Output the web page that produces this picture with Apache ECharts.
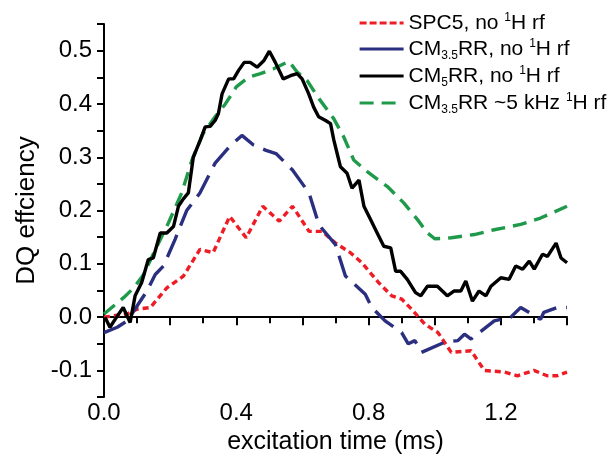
<!DOCTYPE html>
<html><head><meta charset="utf-8">
<script src="https://cdn.jsdelivr.net/npm/echarts@6/dist/echarts.min.js"></script>
<style>html,body{margin:0;padding:0;background:#fff}#c{width:610px;height:460px}</style>
</head><body><div id="c"></div>
<script>
var seriesNames = ['SPC5, no 1H rf', 'CM3.5RR, no 1H rf', 'CM5RR, no 1H rf', 'CM3.5RR ~5 kHz 1H rf'];
var legendRich = ['SPC5, no {sup|1}H rf', 'CM{sub|3.5}RR, no {sup|1}H rf', 'CM{sub|5}RR, no {sup|1}H rf', 'CM{sub|3.5}RR ~5 kHz {sup|1}H rf'];
var xTickLabels = ['0.0', '0.4', '0.8', '1.2'];
var yTickLabels = ['-0.1', '0.0', '0.1', '0.2', '0.3', '0.4', '0.5'];

var spc5Time = [0.0, 0.07, 0.10, 0.14, 0.19, 0.24, 0.29, 0.33, 0.38, 0.43, 0.48, 0.53, 0.57, 0.62, 0.66, 0.70, 0.745, 0.78, 0.83, 0.87, 0.90, 0.93, 0.97, 1.01, 1.05, 1.11, 1.15, 1.21, 1.25, 1.30, 1.34, 1.37, 1.40];
var spc5Dq = [0.0, 0.006, 0.015, 0.018, 0.055, 0.077, 0.127, 0.121, 0.189, 0.149, 0.208, 0.18, 0.208, 0.161, 0.161, 0.139, 0.121, 0.102, 0.065, 0.04, 0.034, 0.015, -0.013, -0.029, -0.066, -0.063, -0.10, -0.103, -0.11, -0.10, -0.11, -0.11, -0.103];

var cm35Time = [0.0, 0.04, 0.07, 0.13, 0.155, 0.18, 0.215, 0.25, 0.29, 0.336, 0.38, 0.417, 0.452, 0.49, 0.52, 0.57, 0.62, 0.65, 0.70, 0.73, 0.79, 0.81, 0.85, 0.90, 0.92, 0.94, 0.96, 1.03, 1.07, 1.09, 1.11, 1.18, 1.23, 1.26, 1.32, 1.33, 1.37, 1.40];
var cm35Dq = [-0.029, -0.019, -0.007, 0.049, 0.08, 0.096, 0.146, 0.2, 0.233, 0.289, 0.32, 0.341, 0.323, 0.313, 0.307, 0.276, 0.233, 0.173, 0.136, 0.077, 0.043, 0.018, -0.007, -0.029, -0.05, -0.044, -0.066, -0.047, -0.044, -0.032, -0.041, -0.007, 0.0, 0.018, -0.004, 0.009, 0.018, 0.018];

var cm5Time = [0.003, 0.018, 0.038, 0.058, 0.079, 0.094, 0.114, 0.134, 0.149, 0.170, 0.19, 0.21, 0.225, 0.24, 0.255, 0.266, 0.27, 0.291, 0.306, 0.321, 0.336, 0.346, 0.357, 0.377, 0.392, 0.407, 0.424, 0.442, 0.463, 0.483, 0.5, 0.518, 0.542, 0.564, 0.584, 0.599, 0.619, 0.634, 0.649, 0.67, 0.685, 0.695, 0.705, 0.715, 0.735, 0.75, 0.771, 0.786, 0.806, 0.826, 0.846, 0.867, 0.882, 0.897, 0.917, 0.942, 0.958, 0.978, 1.008, 1.038, 1.058, 1.079, 1.094, 1.114, 1.134, 1.155, 1.17, 1.2, 1.225, 1.245, 1.266, 1.286, 1.301, 1.326, 1.341, 1.367, 1.382, 1.40];
var cm5Dq = [0.0, -0.019, 0.0, 0.018, -0.01, 0.04, 0.065, 0.108, 0.111, 0.158, 0.158, 0.17, 0.208, 0.222, 0.233, 0.282, 0.30, 0.332, 0.357, 0.358, 0.369, 0.382, 0.419, 0.447, 0.447, 0.463, 0.478, 0.478, 0.469, 0.481, 0.499, 0.478, 0.447, 0.453, 0.457, 0.447, 0.419, 0.394, 0.376, 0.369, 0.363, 0.332, 0.307, 0.282, 0.27, 0.242, 0.257, 0.208, 0.183, 0.158, 0.133, 0.13, 0.086, 0.086, 0.071, 0.046, 0.04, 0.058, 0.058, 0.04, 0.049, 0.049, 0.068, 0.03, 0.049, 0.04, 0.058, 0.074, 0.071, 0.096, 0.09, 0.105, 0.09, 0.118, 0.114, 0.139, 0.111, 0.102];

var cm35hTime = [0.0, 0.06, 0.09, 0.12, 0.15, 0.195, 0.235, 0.266, 0.30, 0.336, 0.367, 0.40, 0.437, 0.473, 0.513, 0.559, 0.584, 0.614, 0.65, 0.695, 0.725, 0.755, 0.796, 0.857, 0.907, 0.948, 0.978, 1.0, 1.05, 1.12, 1.18, 1.26, 1.32, 1.40];
var cm35hDq = [0.006, 0.037, 0.055, 0.08, 0.12, 0.177, 0.233, 0.295, 0.345, 0.376, 0.40, 0.432, 0.45, 0.457, 0.466, 0.48, 0.46, 0.444, 0.41, 0.372, 0.338, 0.295, 0.273, 0.245, 0.214, 0.183, 0.158, 0.147, 0.149, 0.155, 0.164, 0.174, 0.186, 0.208];

function zip(t, v) { return t.map(function (x, i) { return [x, v[i]]; }); }

var FONT = 'Liberation Sans';
var chart = echarts.init(document.getElementById('c'), null, {renderer: 'canvas'});
var colors = ['#ee1c25', '#2b2f7f', '#000000', '#1e9a4a'];
var dashes = [[6, 4], [24, 10], 'solid', [14, 8]];
var legendDashes = [[7, 3], 'solid', 'solid', [14, 8]];
var datasets = [zip(spc5Time, spc5Dq), zip(cm35Time, cm35Dq), zip(cm5Time, cm5Dq), zip(cm35hTime, cm35hDq)];

function near(v, arr) {
  for (var i = 0; i < arr.length; i++) { if (Math.abs(parseFloat(arr[i]) - v) < 1e-6) return arr[i]; }
  return '';
}

chart.setOption({
  animation: false,
  backgroundColor: '#fff',
  grid: {left: 104, right: 43, top: 24, bottom: 62},
  legend: {
    orient: 'vertical', left: 353, top: 6, itemWidth: 44, itemHeight: 14, itemGap: 1,
    data: seriesNames.map(function (n, i) {
      return {name: n, itemStyle: {opacity: 0}, lineStyle: {type: legendDashes[i], width: 3.2, color: colors[i]}};
    }),
    formatter: function (name) { return legendRich[seriesNames.indexOf(name)]; },
    textStyle: {
      fontFamily: FONT, fontSize: 21, color: '#000', lineHeight: 24,
      rich: {
        sub: {fontFamily: FONT, fontSize: 12, color: '#000', padding: [14, 0, 0, 0], lineHeight: 24},
        sup: {fontFamily: FONT, fontSize: 12, color: '#000', padding: [0, 0, 10, 0], lineHeight: 24}
      }
    }
  },
  xAxis: {
    type: 'value', min: 0, max: 1.4, interval: 0.2,
    axisLine: {lineStyle: {color: '#000', width: 2}},
    axisTick: {show: true, length: 8, lineStyle: {color: '#000', width: 2}},
    minorTick: {show: true, splitNumber: 2, length: 6, lineStyle: {color: '#000', width: 2}},
    splitLine: {show: false},
    axisLabel: {
      fontFamily: FONT, fontSize: 24, color: '#000', margin: 4,
      formatter: function (v) { return near(v, xTickLabels); }
    },
    name: 'excitation time (ms)', nameLocation: 'middle', nameGap: 26,
    nameTextStyle: {fontFamily: FONT, fontSize: 25, color: '#000'}
  },
  yAxis: {
    type: 'value', min: -0.15, max: 0.55, interval: 0.05,
    axisLine: {show: true, lineStyle: {color: '#000', width: 2}},
    axisTick: {show: true, length: 7, lineStyle: {color: '#000', width: 2}},
    splitLine: {show: false},
    axisLabel: {
      fontFamily: FONT, fontSize: 24, color: '#000', margin: 12,
      formatter: function (v) { return near(v, yTickLabels); }
    },
    name: 'DQ effciency', nameLocation: 'middle', nameGap: 62, nameRotate: 90,
    nameTextStyle: {fontFamily: FONT, fontSize: 26, color: '#000'}
  },
  series: datasets.map(function (d, i) {
    return {
      name: seriesNames[i], type: 'line', data: d, showSymbol: false, symbol: 'none',
      z: [1, 2, 4, 3][i],
      lineStyle: {color: colors[i], width: 3.4, type: dashes[i]},
      itemStyle: {color: colors[i]}
    };
  })
});
</script></body></html>
